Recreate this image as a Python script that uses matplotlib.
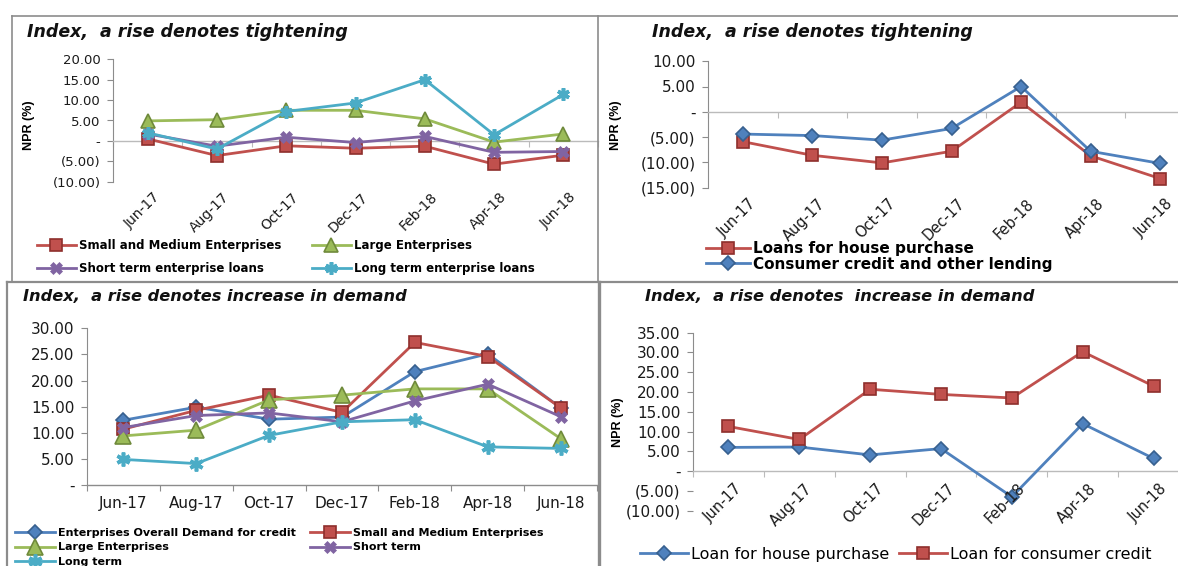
import matplotlib
matplotlib.use("Agg")
import matplotlib.pyplot as plt
from matplotlib.lines import Line2D
from matplotlib.ticker import FuncFormatter
import matplotlib.transforms as mtransforms

# categorias (meses de la encuesta)
months = ['Jun-17', 'Aug-17', 'Oct-17', 'Dec-17', 'Feb-18', 'Apr-18', 'Jun-18']

# panel 1: empresas, una subida indica endurecimiento
tight_sme = [0.5, -3.6, -1.2, -1.8, -1.3, -5.7, -3.5]
tight_large = [4.9, 5.2, 7.5, 7.5, 5.4, -0.3, 1.7]
tight_short = [1.7, -1.3, 0.9, -0.4, 1.1, -2.8, -2.6]
tight_long = [2.0, -2.0, 7.2, 9.3, 15.0, 1.5, 11.4]

# panel 2: hogares, una subida indica endurecimiento
tight_house = [-5.9, -8.6, -10.1, -7.8, 1.9, -8.7, -13.2]
tight_consumer = [-4.4, -4.7, -5.6, -3.3, 5.0, -7.8, -10.2]

# panel 3: demanda de empresas
dem_overall = [12.4, 14.9, 12.6, 13.0, 21.7, 25.1, 14.8]
dem_sme = [10.7, 14.3, 17.2, 13.9, 27.3, 24.6, 14.8]
dem_large = [9.4, 10.5, 16.3, 17.2, 18.4, 18.4, 8.9]
dem_short = [11.0, 13.3, 13.8, 12.1, 16.1, 19.3, 13.1]
dem_long = [4.9, 4.1, 9.5, 12.1, 12.5, 7.3, 7.0]

# panel 4: demanda de hogares
dem_house = [6.0, 6.1, 4.1, 5.7, -6.5, 12.0, 3.2]
dem_consumer = [11.3, 8.0, 20.7, 19.4, 18.5, 30.2, 21.5]

RED = '#C0504D'
GREEN = '#9BBB59'
PURPLE = '#8064A2'
CYAN = '#4BACC6'
BLUE = '#4F81BD'
GRIS = '#8C8C8C'

W, H = 1178, 566
fig = plt.figure(figsize=(W / 100, H / 100), dpi=100)


def caja(x0, y0, x1, y1):
    # convierte pixeles (arriba-izquierda) a fraccion de figura
    return [x0 / W, 1 - y1 / H, (x1 - x0) / W, (y1 - y0) / H]


def fmt(v, pos):
    if abs(v) < 1e-9:
        return '-'
    if v < 0:
        return '(%.2f)' % abs(v)
    return '%.2f' % v


def serie(ax, vals, color, marker, ms, edge):
    x = range(len(vals))
    return ax.plot(x, vals, color=color, lw=2, marker=marker, ms=ms,
                   mfc=color, mec=edge, mew=1.2, zorder=3,
                   solid_joinstyle='round')[0]


def estrella(ax, vals, color, ms):
    x = range(len(vals))
    return ax.plot(x, vals, color=color, lw=2, marker=(6, 2, 0), ms=ms,
                   mec=color, mew=2.6, zorder=3)[0]


def equis(ax, vals, color, ms):
    x = range(len(vals))
    return ax.plot(x, vals, color=color, lw=2, marker='X', ms=ms,
                   mfc=color, mec=color, mew=0.5, zorder=3)[0]


def panel(rect, ylim, step, yfs=9.5):
    ax = fig.add_axes(caja(*rect))
    ax.set_xlim(-0.5, len(months) - 0.5)
    ax.set_ylim(*ylim)
    ax.set_yticks([ylim[0] + step * i for i in range(int((ylim[1] - ylim[0]) / step) + 1)])
    ax.yaxis.set_major_formatter(FuncFormatter(fmt))
    ax.tick_params(axis='y', length=4, color=GRIS, labelsize=yfs, pad=5,
                   labelcolor='#1a1a1a')
    for s in ['top', 'right']:
        ax.spines[s].set_visible(False)
    ax.spines['left'].set_color(GRIS)
    ax.spines['left'].set_linewidth(0.8)
    # eje de categorias cruzando en cero
    ax.spines['bottom'].set_position(('data', 0))
    ax.spines['bottom'].set_color('#BBBBBB')
    ax.spines['bottom'].set_linewidth(1.0)
    ax.set_xticks([i + 0.5 for i in range(-1, len(months))])
    ax.set_xticklabels([])
    ax.tick_params(axis='x', length=4, color='#BBBBBB')
    ax.patch.set_alpha(0)
    return ax


def etiquetas(ax, rot, y, dy=0, fs=9.5):
    trans = mtransforms.blended_transform_factory(ax.transData, ax.transAxes)
    if y is None:
        trans = ax.transData
        y = 0
    for i, m in enumerate(months):
        if rot:
            ax.text(i + 0.08, y, m, rotation=45, ha='right', va='top',
                    rotation_mode='anchor', fontsize=fs, color='#1a1a1a',
                    transform=mtransforms.offset_copy(trans, fig=fig, y=dy, units='points'))
        else:
            ax.text(i, y, m, ha='center', va='top', fontsize=fs, color='#1a1a1a',
                    transform=mtransforms.offset_copy(trans, fig=fig, y=dy, units='points'))


def titulo(x, y, txt, fs):
    fig.text(x / W, 1 - y / H, txt, fontsize=fs, fontweight='bold',
             fontstyle='italic', va='center', ha='left', color='#111111')


def npr(x, y):
    fig.text(x / W, 1 - y / H, 'NPR (%)', rotation=90, fontsize=9,
             fontweight='bold', family='Liberation Sans', va='center', ha='center')


# ---- panel 1 ----
ax1 = panel((113, 59.3, 598, 181.7), (-10, 20), 5, yfs=9.5)
h_sme = serie(ax1, tight_sme, RED, 's', 8, '#8E2F2C')
h_lar = serie(ax1, tight_large, GREEN, '^', 10, '#6F8A3B')
h_sho = equis(ax1, tight_short, PURPLE, 8)
h_lon = estrella(ax1, tight_long, CYAN, 9)
etiquetas(ax1, True, 0, dy=-6, fs=10)
titulo(27, 32, 'Index,  a rise denotes tightening', 12.5)
npr(29, 125)
fig.legend([h_sme, h_sho, h_lar, h_lon],
           ['Small and Medium Enterprises', 'Short term enterprise loans',
            'Large Enterprises', 'Long term enterprise loans'],
           ncol=2, loc='upper left', bbox_to_anchor=(37 / W, 1 - 239 / H),
           frameon=False, prop={'size': 8.5, 'weight': 'bold'},
           handlelength=3.3, handletextpad=0.25, columnspacing=2.6,
           labelspacing=0.85, borderaxespad=0, borderpad=0)

# ---- panel 2 ----
ax2 = panel((708, 61.2, 1195, 187.7), (-15, 10), 5, yfs=11)
h_hou = serie(ax2, tight_house, RED, 's', 9, '#8E2F2C')
h_con = serie(ax2, tight_consumer, BLUE, 'D', 7, '#37608F')
etiquetas(ax2, True, 0, dy=-6, fs=10.5)
titulo(652, 32, 'Index,  a rise denotes tightening', 12.5)
npr(616, 125)
fig.legend([h_hou, h_con],
           ['Loans for house purchase', 'Consumer credit and other lending'],
           ncol=1, loc='upper left', bbox_to_anchor=(706 / W, 1 - 241 / H),
           frameon=False, prop={'size': 11, 'weight': 'bold'},
           handlelength=2.9, handletextpad=0.2, labelspacing=0.05,
           borderaxespad=0, borderpad=0)

# ---- panel 3 ----
ax3 = panel((87, 328.3, 597, 485), (0, 30), 5, yfs=11)
ax3.spines['bottom'].set_color(GRIS)
ax3.tick_params(axis='x', color=GRIS)
g_ove = serie(ax3, dem_overall, BLUE, 'D', 7, '#37608F')
g_sme = serie(ax3, dem_sme, RED, 's', 9, '#8E2F2C')
g_lar = serie(ax3, dem_large, GREEN, '^', 11, '#6F8A3B')
g_sho = equis(ax3, dem_short, PURPLE, 9)
g_lon = estrella(ax3, dem_long, CYAN, 10)
etiquetas(ax3, False, 0, dy=-8, fs=11)
titulo(23, 296, 'Index,  a rise denotes increase in demand', 11.7)
fig.legend([g_ove, g_lar, g_lon, g_sme, g_sho],
           ['Enterprises Overall Demand for credit', 'Large Enterprises', 'Long term',
            'Small and Medium Enterprises', 'Short term'],
           ncol=2, loc='upper left', bbox_to_anchor=(15 / W, 1 - 528 / H),
           frameon=False, prop={'size': 8, 'weight': 'bold'},
           handlelength=3.6, handletextpad=0.25, columnspacing=1.3,
           labelspacing=0.4, borderaxespad=0, borderpad=0)

# ---- panel 4 ----
ax4 = panel((693, 332.7, 1189, 510.7), (-10, 35), 5, yfs=11)
ax4.spines['left'].set_bounds(0, 35)
q_hou = serie(ax4, dem_house, BLUE, 'D', 7, '#37608F')
q_con = serie(ax4, dem_consumer, RED, 's', 9, '#8E2F2C')
etiquetas(ax4, True, None, dy=-7, fs=10.5)
titulo(645, 296, 'Index,  a rise denotes  increase in demand', 11.7)
npr(618, 422)
fig.legend([q_hou, q_con], ['Loan for house purchase', 'Loan for consumer credit'],
           ncol=2, loc='upper left', bbox_to_anchor=(640 / W, 1 - 547 / H),
           frameon=False, prop={'size': 11.5},
           handlelength=3.0, handletextpad=0.2, columnspacing=0.6,
           borderaxespad=0, borderpad=0)

# marcos de los cuatro recuadros
marcos = [
    ([12, 1178], [15.5, 15.5], 1.2),
    ([12, 12], [15.5, 282], 1.2),
    ([598, 598], [15.5, 282], 1.2),
    ([7, 1178], [282, 282], 1.6),
    ([7, 7], [282, 566], 1.6),
    ([599, 599], [282, 566], 2.4),
]
for xs, ys, lw in marcos:
    fig.add_artist(Line2D([x / W for x in xs], [1 - y / H for y in ys],
                          color=GRIS, lw=lw))

fig.savefig('out.png', dpi=100)
